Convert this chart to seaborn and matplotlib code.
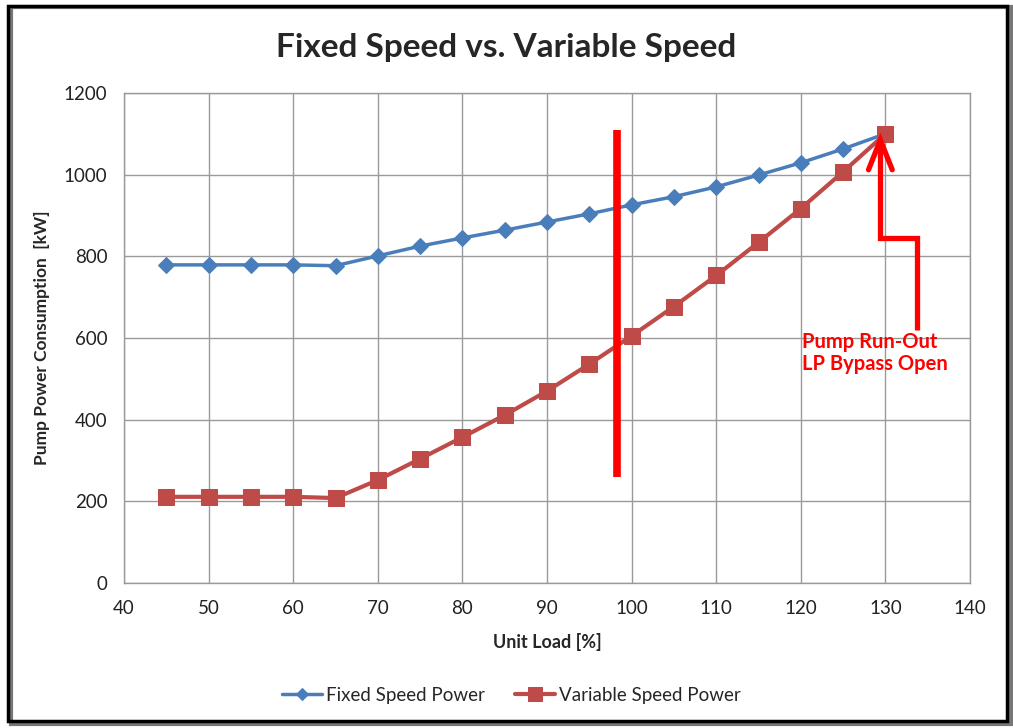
import matplotlib
matplotlib.use("Agg")
import matplotlib.pyplot as plt
import seaborn as sns
import pandas as pd
from matplotlib.patches import Rectangle

unit_load = [45, 50, 55, 60, 65, 70, 75, 80, 85, 90, 95, 100, 105, 110, 115, 120, 125, 130]
fixed_power = [779, 779, 779, 779, 777, 801, 825, 845, 864, 884, 904, 926, 946, 970, 999, 1029, 1063, 1100]
variable_power = [211, 211, 211, 211, 208, 252, 304, 357, 411, 470, 536, 605, 677, 753, 834, 917, 1007, 1100]
x_ticks = [40, 50, 60, 70, 80, 90, 100, 110, 120, 130, 140]
y_ticks = [0, 200, 400, 600, 800, 1000, 1200]

sns.set_theme(style="white")
plt.rcParams['font.family'] = ['Lato', 'DejaVu Sans']

fig = plt.figure(figsize=(10.13, 7.28), dpi=100)
ax = fig.add_axes([0.1224, 0.1992, 0.8352, 0.6731])

df = pd.DataFrame({"load": unit_load, "fixed": fixed_power, "variable": variable_power})
blue = "#4A7EBB"
red = "#BE4B48"
sns.lineplot(data=df, x="load", y="fixed", ax=ax, color=blue, lw=2.5, marker="D",
             markersize=8, markeredgecolor=blue, label="Fixed Speed Power")
sns.lineplot(data=df, x="load", y="variable", ax=ax, color=red, lw=3, marker="s",
             markersize=12, markeredgecolor=red, label="Variable Speed Power")

ax.set_xlim(40, 140)
ax.set_ylim(0, 1200)
ax.set_xticks(x_ticks)
ax.set_yticks(y_ticks)
ax.grid(True, color="#9a9a9a", lw=1)
for s in ax.spines.values():
    s.set_color("#9a9a9a")
    s.set_linewidth(1)
ax.tick_params(length=0, labelsize=13.5, colors="#222222", pad=12)
ax.set_xlabel("Unit Load [%]", fontsize=13, fontweight="bold", labelpad=12)
ax.set_ylabel("Pump Power Consumption  [kW]", fontsize=12.5, fontweight="bold", labelpad=10)

# red vertical marker line
ax.plot([98.3, 98.3], [260, 1110], color="#FF0000", lw=5.5, solid_capstyle="butt")
# elbow arrow
ax.plot([133.7, 133.7, 129.4, 129.4], [620, 845, 845, 1075], color="#FF0000", lw=3.8,
        solid_joinstyle="miter", solid_capstyle="butt")
ax.plot([128.0, 129.4, 130.8], [1012, 1085, 1012], color="#FF0000", lw=3.8,
        solid_joinstyle="miter", solid_capstyle="round")
ax.text(120.1, 615, "Pump Run-Out\nLP Bypass Open", color="#FF0000", fontsize=14.5,
        fontweight="bold", ha="left", va="top", linespacing=1.15)

leg = ax.legend(loc="center", bbox_to_anchor=(0.505, 0.045), bbox_transform=fig.transFigure,
                ncol=2, frameon=False, fontsize=13.5, columnspacing=1.6, handlelength=2.1,
                handletextpad=0.25, markerscale=0.8)

fig.text(0.5, 0.935, "Fixed Speed vs. Variable Speed", ha="center", va="center",
         fontsize=24, fontweight="bold")

# frame with shadow
fig.patches.append(Rectangle((0.011, 0.006), 0.987, 0.985, transform=fig.transFigure,
                             fill=False, edgecolor="#777777", lw=3, zorder=0))
fig.patches.append(Rectangle((0.008, 0.010), 0.986, 0.982, transform=fig.transFigure,
                             fill=False, edgecolor="black", lw=2.5, zorder=1))

fig.savefig("out.png", dpi=100)
